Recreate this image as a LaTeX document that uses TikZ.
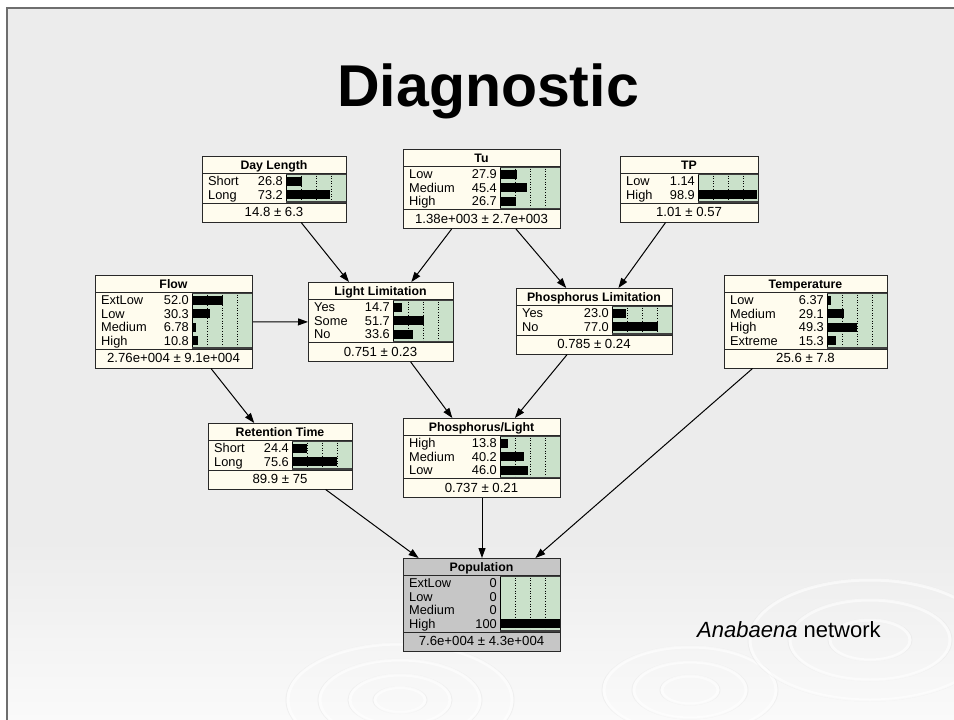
\documentclass[tikz,border=0pt]{standalone}
\usepackage{fontspec}
\setmainfont{Liberation Sans}
\usetikzlibrary{arrows.meta}

\definecolor{slidebg}{RGB}{236,236,236}
\definecolor{framegray}{RGB}{110,110,110}
\definecolor{nodecream}{RGB}{255,252,238}
\definecolor{popgray}{RGB}{198,198,198}
\definecolor{bargreen}{RGB}{202,225,202}
\definecolor{bardark}{RGB}{64,64,64}
\definecolor{nodeline}{RGB}{40,40,40}

\tikzset{
  rowfont/.style={font=\fontsize{12.8}{14}\selectfont, inner sep=0pt},
  meanfont/.style={font=\fontsize{13.2}{14}\selectfont, inner sep=0pt},
  titlefont/.style={font=\fontsize{12.3}{14}\selectfont\bfseries, inner sep=0pt},
  arr/.style={draw=black, line width=1pt, -{Triangle[length=10pt,width=7pt]}},
  ripple/.style={draw=white, line width=3pt, opacity=0.6},
  rippleshade/.style={draw=black!10, line width=1pt, opacity=0.45}
}

% Belief-network node: name, x, y (top left), width, number of states,
% fill colour, title, state/percentage list, mean +- sd
\newcommand\bnnode[9]{%
  \begin{scope}[shift={(#2,#3)}]
    \pgfmathsetmacro\bnB{13.5*#5+3}
    \pgfmathsetmacro\bnH{17+\bnB+18.5}
    \node[draw=nodeline, fill=#6, line width=1pt, minimum width=#4pt,
          minimum height=\bnH pt, inner sep=0pt, anchor=north west] (#1) at (0,0) {};
    \node[titlefont, anchor=base] at (#4/2,13) {#7};
    \fill[bargreen] (#4-60,17) rectangle (#4,17+\bnB);
    \foreach \f in {15,30,45}
      \draw[black, dotted, line width=0.6pt] (#4-60+\f,17) -- (#4-60+\f,17+\bnB);
    \foreach \lab/\val [count=\i] in {#8} {
      \pgfmathsetmacro\ry{18.5+13.5*(\i-0.5)}
      \node[rowfont, anchor=base west] at (6,\ry+4.5) {\lab};
      \node[rowfont, anchor=base east] at (#4-63,\ry+4.5) {\val};
      \fill[black] (#4-60,\ry-4.5) rectangle ++(0.6*\val,9);
    }
    \draw[black, line width=0.8pt] (#4-60,17) -- (#4-60,17+\bnB);
    \draw[bardark, line width=2pt] (#4-60,18) -- (#4,18);
    \draw[bardark, line width=2pt] (#4-60,16+\bnB) -- (#4,16+\bnB);
    \draw[nodeline, line width=1pt] (0,17) -- (#4,17);
    \draw[nodeline, line width=1pt] (0,17+\bnB) -- (#4,17+\bnB);
    \node[meanfont, anchor=base] at (#4/2,17+\bnB+13.5) {#9};
  \end{scope}%
}

\begin{document}
\begin{tikzpicture}[x=1pt,y=-1pt]
\useasboundingbox (0,0) rectangle (954,720);

% slide background
\fill[white] (0,0) rectangle (954,720);
\fill[slidebg] (7,8) rectangle (954,540);
\shade[top color=slidebg, bottom color=white!98!black] (7,540) rectangle (954,720);

% ripples on the water
\begin{scope}
  \clip (7,8) rectangle (954,720);
  \foreach \r in {25,50,80,112} {
    \draw[rippleshade] (400,700) ellipse [x radius=\r+2, y radius=0.5*\r+1];
    \draw[ripple] (400,700) ellipse [x radius=\r, y radius=0.5*\r];
  }
  \foreach \r in {28,56,86} {
    \draw[rippleshade] (690,690) ellipse [x radius=\r+2, y radius=0.5*\r+1];
    \draw[ripple] (690,690) ellipse [x radius=\r, y radius=0.5*\r];
  }
  \foreach \r in {40,80,120} {
    \draw[rippleshade] (870,640) ellipse [x radius=\r+2, y radius=0.5*\r+1];
    \draw[ripple] (870,640) ellipse [x radius=\r, y radius=0.5*\r];
  }
\end{scope}

% slide frame
\draw[framegray, line width=2pt] (7,720) -- (7,8) -- (954,8);

% heading and caption
\node[font=\fontsize{59}{60}\selectfont\bfseries, inner sep=0pt, anchor=base] (heading) at (488,106) {Diagnostic};
\node[font=\fontsize{22}{24}\selectfont, inner sep=0pt, anchor=base west] (caption) at (697,637) {\textit{Anabaena} network};

% network nodes
\bnnode{dl}{202}{156}{144}{2}{nodecream}{Day Length}{Short/26.8, Long/73.2}{14.8 ± 6.3}
\bnnode{tu}{403}{149}{157}{3}{nodecream}{Tu}{Low/27.9, Medium/45.4, High/26.7}{1.38e+003 ± 2.7e+003}
\bnnode{tp}{620}{156}{138}{2}{nodecream}{TP}{Low/1.14, High/98.9}{1.01 ± 0.57}
\bnnode{flow}{95}{275}{157}{4}{nodecream}{Flow}{ExtLow/52.0, Low/30.3, Medium/6.78, High/10.8}{2.76e+004 ± 9.1e+004}
\bnnode{ll}{308}{282}{145}{3}{nodecream}{Light Limitation}{Yes/14.7, Some/51.7, No/33.6}{0.751 ± 0.23}
\bnnode{pl}{516}{288}{156}{2}{nodecream}{Phosphorus Limitation}{Yes/23.0, No/77.0}{0.785 ± 0.24}
\bnnode{temp}{724}{275}{163}{4}{nodecream}{Temperature}{Low/6.37, Medium/29.1, High/49.3, Extreme/15.3}{25.6 ± 7.8}
\bnnode{rt}{208}{423}{144}{2}{nodecream}{Retention Time}{Short/24.4, Long/75.6}{89.9 ± 75}
\bnnode{phl}{403}{418}{157}{3}{nodecream}{Phosphorus/Light}{High/13.8, Medium/40.2, Low/46.0}{0.737 ± 0.21}
\bnnode{pop}{403}{558}{157}{4}{popgray}{Population}{ExtLow/0, Low/0, Medium/0, High/100}{7.6e+004 ± 4.3e+004}

% links
\draw[arr] (dl) -- (ll);
\draw[arr] (tu) -- (ll);
\draw[arr] (tu) -- (pl);
\draw[arr] (tp) -- (pl);
\draw[arr] (flow) -- (ll);
\draw[arr] (flow) -- (rt);
\draw[arr] (ll) -- (phl);
\draw[arr] (pl) -- (phl);
\draw[arr] (rt) -- (pop);
\draw[arr] (phl) -- (pop);
\draw[arr] (temp) -- (pop);
\end{tikzpicture}
\end{document}
